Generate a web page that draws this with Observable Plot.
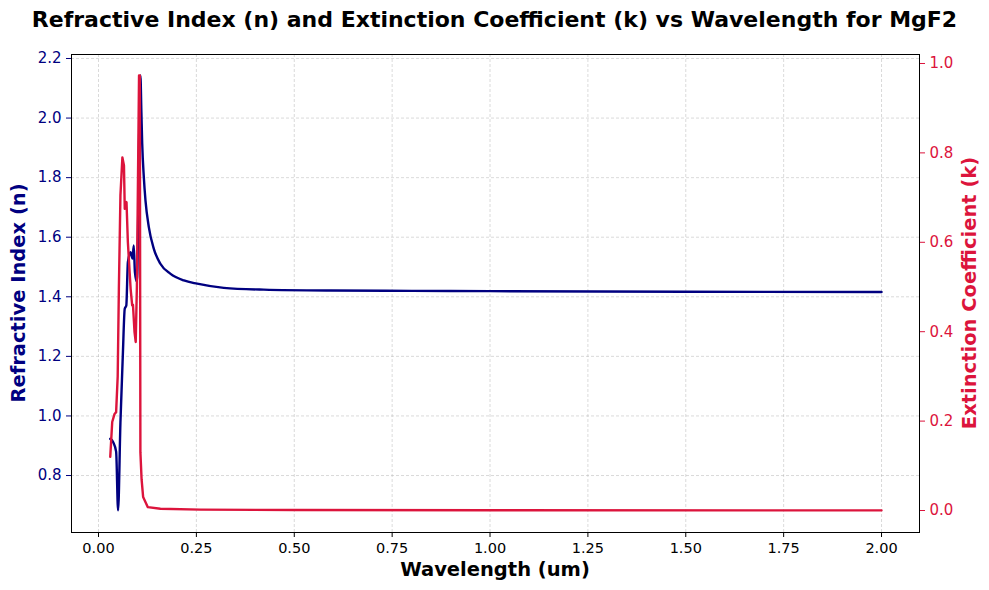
<!DOCTYPE html>
<html><head><meta charset="utf-8">
<script src="https://cdn.jsdelivr.net/npm/d3@7"></script>
<script src="https://cdn.jsdelivr.net/npm/@observablehq/plot@0.6"></script>
<style>
body{margin:0;background:#fff;}
#title{box-sizing:border-box;height:38px;padding-top:7px;line-height:26px;text-align:center;font:bold 22px "DejaVu Sans";color:#000;white-space:nowrap;}
</style>
</head><body>
<div id="title">Refractive Index (n) and Extinction Coefficient (k) vs Wavelength for MgF2</div>
<div id="chart"></div>
<script>
const nWl  = [0.03,0.0375,0.045,0.050,0.056,0.062,0.067,0.071,0.075,0.082,0.085,0.087,0.090,0.093,0.098,0.107,0.1095,0.1116,0.1157,0.12,0.1285,0.1413,0.158,0.184,0.218,0.252,0.32,0.422,0.593,0.8,1.0,1.5,2.0];
const nVal = [0.923,0.912,0.88,0.683,0.979,1.2,1.36,1.371,1.516,1.55,1.535,1.528,1.572,1.483,1.45,2.143,2.02,1.914,1.802,1.723,1.634,1.561,1.511,1.477,1.455,1.444,1.430,1.424,1.421,1.420,1.419,1.417,1.416];
const kWl  = [0.03,0.035,0.041,0.045,0.049,0.052,0.056,0.061,0.065,0.067,0.0715,0.075,0.082,0.086,0.088,0.092,0.095,0.098,0.1035,0.1055,0.107,0.110,0.114,0.126,0.158,0.26,0.5,1.0,2.0];
const kVal = [0.12,0.198,0.216,0.22,0.3,0.496,0.705,0.79,0.772,0.675,0.69,0.6,0.496,0.459,0.46,0.399,0.377,0.5,0.973,0.973,0.13,0.07,0.03,0.0075,0.004,0.002,0.001,0.0005,0.0003];
const xTicks = [0,0.25,0.5,0.75,1.0,1.25,1.5,1.75,2.0];
const nTicks = [0.8,1.0,1.2,1.4,1.6,1.8,2.0,2.2];
const kTicks = [0.0,0.2,0.4,0.6,0.8,1.0];

const W=989,H=552,mT=16,mB=58,mL=71,mR=70;
const nDomain=[0.6087,2.2134], kDomain=[-0.0492,1.0201];
const k2n = k => nDomain[0] + (k-kDomain[0])*(nDomain[1]-nDomain[0])/(kDomain[1]-kDomain[0]);
const n2k = n => kDomain[0] + (n-nDomain[0])*(kDomain[1]-kDomain[0])/(nDomain[1]-nDomain[0]);
const nData = nWl.map((w,i)=>({w, v:nVal[i]}));
const kData = kWl.map((w,i)=>({w, v:k2n(kVal[i])}));
const grid = {stroke:"#b0b0b0", strokeOpacity:0.8, strokeDasharray:"3,2", strokeWidth:0.6};

const plot = Plot.plot({
  width:W, height:H, marginTop:mT, marginBottom:mB, marginLeft:mL, marginRight:mR,
  x:{domain:[-0.069,2.097]},
  y:{domain:nDomain},
  style:{fontFamily:"DejaVu Sans", fontSize:"14px", background:"white", overflow:"visible"},
  marks:[
    Plot.gridX(xTicks, grid),
    Plot.gridY(nTicks, grid),
    Plot.line(nData,{x:"w",y:"v",stroke:"#000080",strokeWidth:2.4,curve:"monotone-x"}),
    Plot.line(kData,{x:"w",y:"v",stroke:"#DC143C",strokeWidth:2.4}),
    Plot.frame({stroke:"black", strokeWidth:1}),
    Plot.axisX(xTicks,{tickFormat:d=>d.toFixed(2), label:null, tickSize:5, tickPadding:5, fontSize:14.5, color:"black"}),
    Plot.axisY(nTicks,{anchor:"left", tickFormat:d=>d.toFixed(1), label:null, tickSize:5, tickPadding:5, fontSize:15, color:"#000080"}),
    Plot.axisY(kTicks.map(k2n),{anchor:"right", tickFormat:d=>n2k(d).toFixed(1), label:null, tickSize:5, tickPadding:5, fontSize:15, color:"#DC143C"})
  ]
});
document.getElementById("chart").appendChild(plot);
const svg = d3.select(plot);
const lab = (t) => t.attr("text-anchor","middle").attr("dominant-baseline","middle")
  .attr("font-family","DejaVu Sans").attr("font-weight","bold").attr("font-size",19.5);
lab(svg.append("text").attr("x",495).attr("y",532).attr("fill","black").text("Wavelength (um)"));
lab(svg.append("text").attr("transform","translate(19,255) rotate(-90)").attr("fill","#000080").text("Refractive Index (n)"));
lab(svg.append("text").attr("transform","translate(970,255) rotate(-90)").attr("fill","#DC143C").text("Extinction Coefficient (k)"));
</script>
</body></html>
